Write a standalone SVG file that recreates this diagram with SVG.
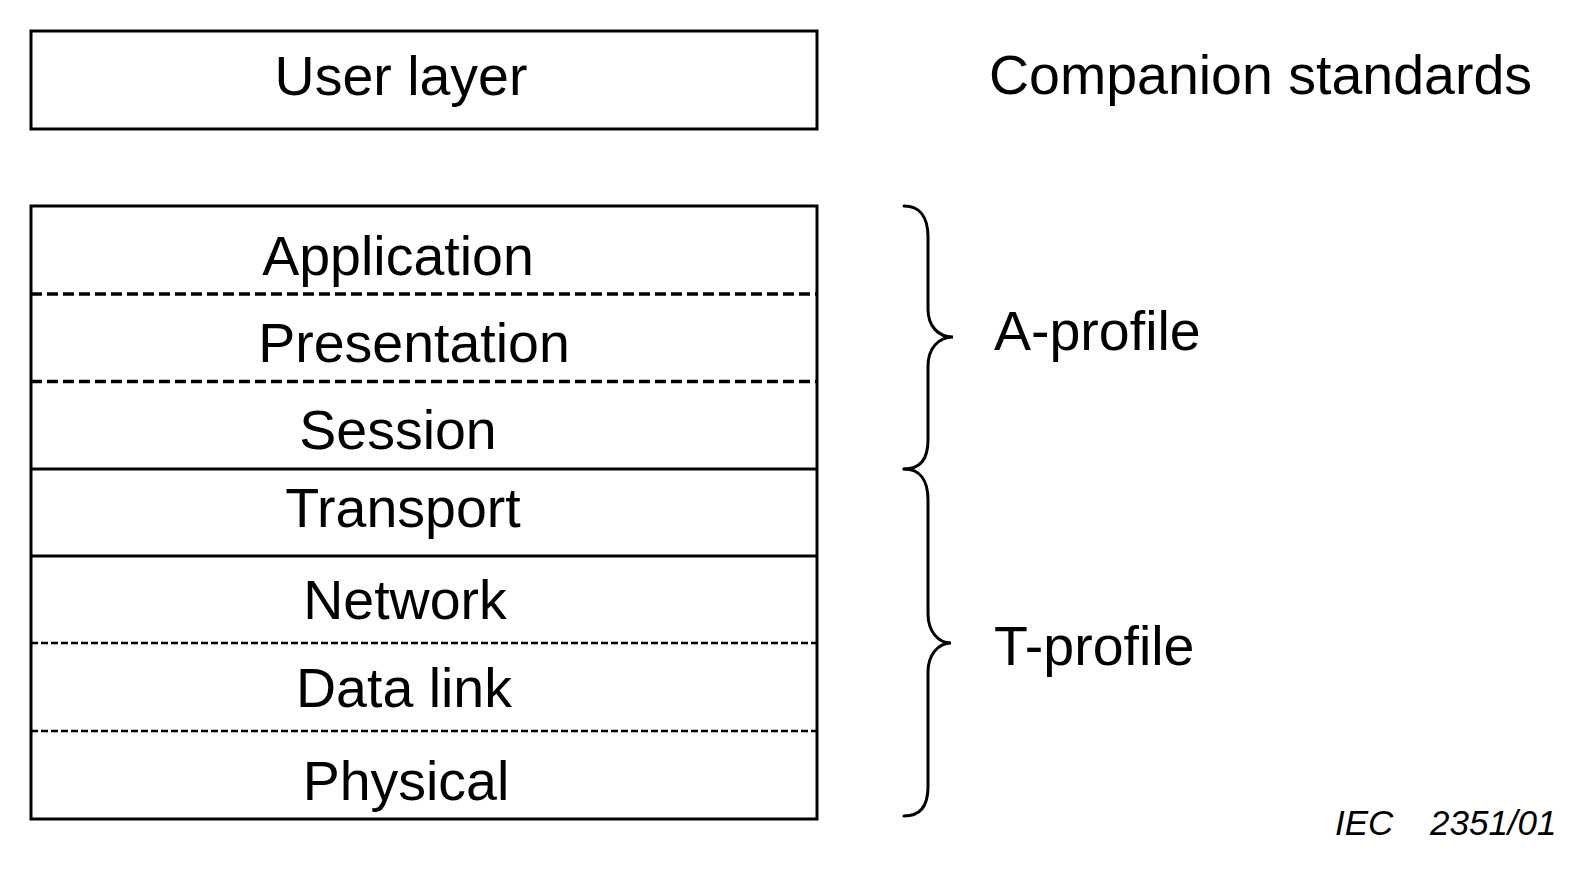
<svg xmlns="http://www.w3.org/2000/svg" width="1582" height="870" viewBox="0 0 1582 870">
<style>
.box{fill:none;stroke:#000;stroke-width:3}
.solid{stroke:#000;stroke-width:3;fill:none}
.dash1{stroke:#000;stroke-width:3.5;stroke-dasharray:11 5;fill:none}
.dash2{stroke:#000;stroke-width:2.5;stroke-dasharray:7 3;fill:none}
.brace{stroke:#000;stroke-width:3;fill:none;stroke-linecap:round}
.t{font-family:"Liberation Sans",Arial,sans-serif;font-size:55.5px;fill:#000}
.c{text-anchor:middle}
.note{font-family:"Liberation Sans",Arial,sans-serif;font-size:35px;font-style:italic;fill:#000}
</style>
<rect x="0" y="0" width="1582" height="870" fill="#fff"/>
<g id="user-layer">
<rect class="box" x="31" y="31" width="786" height="98"/>
<text class="t c" x="401" y="95">User layer</text>
</g>
<g id="companion">
<text class="t" x="989" y="94">Companion standards</text>
</g>
<g id="stack">
<rect class="box" x="31" y="206" width="786" height="613"/>
</g>
<g id="connectors">
<line class="dash1" x1="31" y1="294" x2="817" y2="294"/>
<line class="dash1" x1="31" y1="381.5" x2="817" y2="381.5"/>
<line class="solid" x1="31" y1="469" x2="817" y2="469"/>
<line class="solid" x1="31" y1="556" x2="817" y2="556"/>
<line class="dash2" x1="31" y1="643" x2="817" y2="643"/>
<line class="dash2" x1="31" y1="731" x2="817" y2="731"/>
</g>
<g id="application"><text class="t c" x="398" y="275">Application</text></g>
<g id="presentation"><text class="t c" x="414" y="362">Presentation</text></g>
<g id="session"><text class="t c" x="398" y="449">Session</text></g>
<g id="transport"><text class="t c" x="403" y="527">Transport</text></g>
<g id="network"><text class="t c" x="405" y="619">Network</text></g>
<g id="datalink"><text class="t c" x="404" y="707">Data link</text></g>
<g id="physical"><text class="t c" x="406" y="800">Physical</text></g>
<g id="a-profile">
<path class="brace" d="M904,206 C919,206 928,216 928,237 L928,309 C928,326 938,337 953,337 C938,337 928,349 928,366 L928,440 C928,460 919,469 904,469"/>
<text class="t" x="994" y="350">A-profile</text>
</g>
<g id="t-profile">
<path class="brace" d="M904,469 C919,469 928,479 928,500 L928,614 C928,631 938,643 951,643 C938,643 928,655 928,672 L928,787 C928,807 919,816 904,816"/>
<text class="t" x="994" y="665">T-profile</text>
</g>
<g id="ref">
<text class="note" y="835"><tspan x="1335">IEC</tspan> <tspan x="1430">2351/01</tspan></text>
</g>
</svg>
